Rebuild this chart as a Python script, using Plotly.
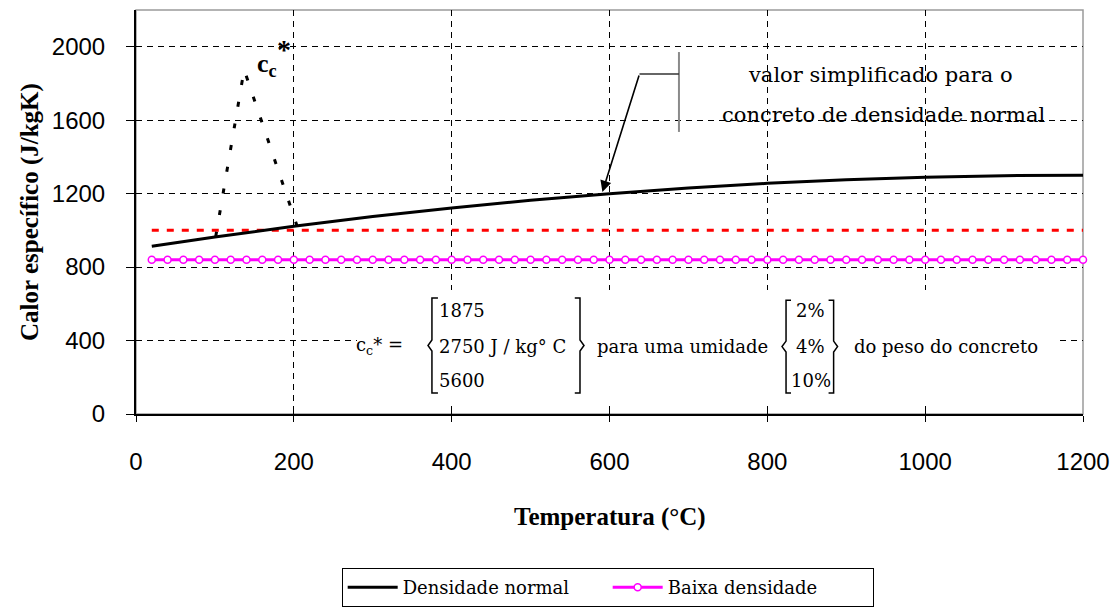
import plotly.graph_objects as go

# ---- data ----
temp_normal = [20, 100, 200, 300, 400, 500, 600, 700, 800, 900, 1000, 1100, 1200]
cp_normal = [913, 964, 1022, 1075, 1122, 1164, 1200, 1231, 1256, 1275, 1289, 1298, 1300]

temp_low = [20, 40, 60, 80, 100, 120, 140, 160, 180, 200, 220, 240, 260, 280, 300,
            320, 340, 360, 380, 400, 420, 440, 460, 480, 500, 520, 540, 560, 580, 600,
            620, 640, 660, 680, 700, 720, 740, 760, 780, 800, 820, 840, 860, 880, 900,
            920, 940, 960, 980, 1000, 1020, 1040, 1060, 1080, 1100, 1120, 1140, 1160,
            1180, 1200]
cp_low = [840] * len(temp_low)

temp_simpl = [20, 1200]
cp_simpl = [1000, 1000]

temp_peak = [101, 137, 204]
cp_peak = [965, 1875, 1025]

x_ticks = [0, 200, 400, 600, 800, 1000, 1200]
y_ticks = [0, 400, 800, 1200, 1600, 2000]

col1 = ["1875", "2750 J / kg° C", "5600"]
col2 = ["2%", "4%", "10%"]

SERIF = "DejaVu Serif"
TITLE = "Liberation Serif"
TICKF = "Liberation Sans, Arial"

fig = go.Figure()

fig.add_trace(go.Scatter(x=temp_simpl, y=cp_simpl, mode="lines",
                         line=dict(color="#FF0000", width=3, dash="7px,8px"),
                         showlegend=False, hoverinfo="skip"))
fig.add_trace(go.Scatter(x=temp_peak, y=cp_peak, mode="lines",
                         line=dict(color="black", width=3, dash="5px,17px"),
                         showlegend=False, hoverinfo="skip"))
fig.add_trace(go.Scatter(x=temp_normal, y=cp_normal, mode="lines", name="Densidade normal",
                         line=dict(color="black", width=3)))
fig.add_trace(go.Scatter(x=temp_low, y=cp_low, mode="lines+markers", name="Baixa densidade",
                         line=dict(color="#FF00FF", width=3),
                         marker=dict(symbol="circle", size=7, color="white",
                                     line=dict(color="#FF00FF", width=1.5)),
                         cliponaxis=False))
# dummy trace for the inner-tick overlay axes
fig.add_trace(go.Scatter(x=[None], y=[None], xaxis="x2", yaxis="y2", showlegend=False,
                         hoverinfo="skip"))

# ---- shapes ----
shapes = []
shapes.append(dict(type="rect", xref="paper", yref="paper", x0=0, x1=1, y0=0, y1=1,
                   line=dict(color="#9a9a9a", width=1.5), layer="below"))
shapes.append(dict(type="rect", xref="x", yref="y", x0=280, x1=1168, y0=49, y1=675,
                   fillcolor="white", line=dict(width=0), layer="above"))


def brace(xv, xt, xs, ytop, ybot):
    ymid = (ytop + ybot) / 2
    d = 30
    path = (f"M {xs},{ytop} L {xv},{ytop} L {xv},{ymid + d} L {xt},{ymid} "
            f"L {xv},{ymid - d} L {xv},{ybot} L {xs},{ybot}")
    return dict(type="path", xref="x", yref="y", path=path,
                line=dict(color="black", width=1.5), layer="above")


shapes.append(brace(375, 370, 382.6, 632, 114))
shapes.append(brace(562.6, 567.7, 556, 632, 114))
shapes.append(brace(823.7, 818.6, 830, 620, 114))
shapes.append(brace(884, 889, 877.6, 620, 114))

shapes.append(dict(type="line", xref="x", yref="y", x0=688, x1=688, y0=1536, y1=1971,
                   line=dict(color="#8a8a8a", width=2)))
shapes.append(dict(type="line", xref="x", yref="y", x0=638, x1=688, y0=1852, y1=1852,
                   line=dict(color="#333333", width=1.5)))

# ---- annotations ----
ann = []
ann.append(dict(x=591, y=1209, ax=638, ay=1852, xref="x", yref="y", axref="x", ayref="y",
                text="", showarrow=True, arrowhead=2, arrowsize=1.4, arrowwidth=1.6,
                arrowcolor="black"))
ann.append(dict(x=944, y=1846, xref="x", yref="y", text="valor simplificado para o",
                showarrow=False, font=dict(family=SERIF, size=21, color="black")))
ann.append(dict(x=947, y=1628, xref="x", yref="y", text="concreto de densidade normal",
                showarrow=False, font=dict(family=SERIF, size=21, color="black")))
ann.append(dict(x=151, y=1901, xref="x", yref="y", xanchor="left", yanchor="middle",
                text="<b>c<sub>c</sub></b>", showarrow=False,
                font=dict(family=TITLE, size=26, color="black")))
ann.append(dict(x=187, y=1985, xref="x", yref="y", text="<b>*</b>", showarrow=False,
                font=dict(family=TITLE, size=28, color="black")))

ann.append(dict(x=340.7, y=370, xref="x", yref="y", xanchor="right", yanchor="middle",
                text="c<sub>c</sub>* =", showarrow=False,
                font=dict(family=SERIF, size=18, color="black")))
for txt, yy in zip(col1, [566, 370, 180]):
    ann.append(dict(x=381, y=yy, xref="x", yref="y", xanchor="left", yanchor="middle",
                    text=txt, showarrow=False,
                    font=dict(family=SERIF, size=18, color="black")))
ann.append(dict(x=581.6, y=370, xref="x", yref="y", xanchor="left", yanchor="middle",
                text="para uma umidade", showarrow=False,
                font=dict(family=SERIF, size=18, color="black")))
for txt, yy in zip(col2, [566, 370, 180]):
    ann.append(dict(x=855, y=yy, xref="x", yref="y", xanchor="center", yanchor="middle",
                    text=txt, showarrow=False,
                    font=dict(family=SERIF, size=18, color="black")))
ann.append(dict(x=907, y=370, xref="x", yref="y", xanchor="left", yanchor="middle",
                text="do peso do concreto", showarrow=False,
                font=dict(family=SERIF, size=18, color="black")))

# axis titles
ann.append(dict(x=0.5, y=-0.255, xref="paper", yref="paper", xanchor="center",
                yanchor="middle", text="<b>Temperatura (°C)</b>",
                showarrow=False, font=dict(family=TITLE, size=25, color="black")))
ann.append(dict(x=-0.112, y=0.5, xref="paper", yref="paper", xanchor="center",
                yanchor="middle", textangle=-90,
                text="<b>Calor específico (J/kgK)</b>", showarrow=False,
                font=dict(family=TITLE, size=25, color="black")))

fig.update_layout(
    width=1114, height=609, autosize=False,
    margin=dict(l=136, r=31, t=10, b=195, autoexpand=False),
    paper_bgcolor="white", plot_bgcolor="white",
    shapes=shapes, annotations=ann,
    xaxis=dict(range=[0, 1200], tickvals=x_ticks, ticks="outside", ticklen=6,
               tickcolor="black", tickwidth=1, showline=True, linecolor="black",
               linewidth=2, showgrid=True, gridcolor="black", gridwidth=1,
               griddash="6px,5px", zeroline=False, ticklabelstandoff=19,
               automargin=False,
               tickfont=dict(family=TICKF, size=24, color="black")),
    yaxis=dict(range=[0, 2200], tickvals=y_ticks, ticks="outside", ticklen=8,
               tickcolor="black", tickwidth=1, showline=True, linecolor="black",
               linewidth=2, showgrid=True, gridcolor="black", gridwidth=1,
               griddash="6px,5px", zeroline=False, ticklabelstandoff=16,
               automargin=False,
               tickfont=dict(family=TICKF, size=24, color="black")),
    xaxis2=dict(range=[0, 1200], tickvals=x_ticks, ticks="inside", ticklen=6,
                tickcolor="black", showticklabels=False, showgrid=False,
                showline=False, zeroline=False, overlaying="x", anchor="y2",
                automargin=False),
    yaxis2=dict(range=[0, 2200], tickvals=y_ticks, ticks="inside", ticklen=4,
                tickcolor="black", showticklabels=False, showgrid=False,
                showline=False, zeroline=False, overlaying="y", anchor="x2",
                automargin=False),
    showlegend=True,
    legend=dict(orientation="h", x=0.5455, xanchor="center", xref="container",
                y=0.0673, yanchor="top", yref="container",
                bordercolor="black", borderwidth=1, bgcolor="white",
                entrywidth=200, itemwidth=50,
                font=dict(family=SERIF, size=18, color="black")),
)

fig.write_html("out.html")
